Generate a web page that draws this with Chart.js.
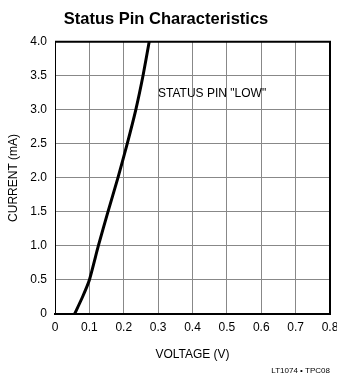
<!DOCTYPE html>
<html>
<head>
<meta charset="utf-8">
<script src="https://cdn.jsdelivr.net/npm/chart.js@4"></script>
<style>
  html, body { margin: 0; padding: 0; background: #fff; }
  #wrap { width: 337px; height: 378px; position: relative; }
</style>
</head>
<body>
<div id="wrap"><canvas id="chart"></canvas></div>
<script>
const voltage = [0.057, 0.08, 0.1, 0.126, 0.154, 0.183, 0.21, 0.235, 0.256, 0.274];
const current = [0, 0.25, 0.5, 1.0, 1.5, 2.0, 2.5, 3.0, 3.5, 4.0];
const xTicks = ["0", "0.1", "0.2", "0.3", "0.4", "0.5", "0.6", "0.7", "0.8"];
const yTicks = ["0", "0.5", "1.0", "1.5", "2.0", "2.5", "3.0", "3.5", "4.0"];

const FONT = "'Liberation Sans Narrow', 'Arial Narrow', 'Liberation Sans', sans-serif";

var points = [];
for (let i = 0; i < voltage.length; i++) {
  points.push({ x: voltage[i], y: current[i] });
}

const extras = {
  id: "extras",
  afterDraw(chart) {
    const c = chart.ctx;
    const a = chart.chartArea;
    const x = chart.scales.x, y = chart.scales.y;
    c.save();
    // heavy frame top/right
    c.strokeStyle = "#000";
    c.lineWidth = 2;
    c.beginPath();
    c.moveTo(a.left, a.top);
    c.lineTo(a.right, a.top);
    c.lineTo(a.right, a.bottom);
    c.stroke();
    c.fillStyle = "#000";
    c.font = "12px " + FONT;
    c.textAlign = "center";
    c.textBaseline = "middle";
    c.fillText('STATUS PIN "LOW"', x.getPixelForValue(0.457), y.getPixelForValue(3.24));
    c.font = "8px " + FONT;
    c.textAlign = "right";
    c.fillText("LT1074 \u2022 TPC08", 330, 371);
    c.restore();
  },
};

new Chart(document.getElementById("chart"), {
  type: "line",
  data: {
    datasets: [
      {
        data: points,
        borderColor: "#000",
        borderWidth: 3,
        pointRadius: 0,
        tension: 0.2,
        fill: false,
      },
    ],
  },
  options: {
    responsive: true,
    maintainAspectRatio: false,
    animation: false,
    layout: { padding: { left: 2, right: 7, top: 0, bottom: 0 } },
    scales: {
      x: {
        type: "linear",
        min: 0,
        max: 0.8,
        afterFit: (s) => {
          s.height = 64;
          s.paddingRight = 0;
        },
        ticks: {
          stepSize: 0.1,
          color: "#000",
          padding: 6,
          font: { size: 12, family: FONT },
          callback: (v, i) => xTicks[i],
        },
        grid: { color: "#888", lineWidth: 1, tickLength: 0 },
        border: { color: "#000", width: 2 },
        title: {
          display: true,
          text: "VOLTAGE (V)",
          color: "#000",
          font: { size: 12, family: FONT },
          padding: { top: 0, bottom: 16 },
        },
      },
      y: {
        min: 0,
        max: 4,
        afterFit: (s) => {
          s.width = 53;
        },
        ticks: {
          stepSize: 0.5,
          color: "#000",
          padding: 8,
          font: { size: 12, family: FONT },
          callback: (v, i) => yTicks[i],
        },
        grid: { color: "#888", lineWidth: 1, tickLength: 0 },
        border: { color: "#000", width: 1 },
        title: {
          display: true,
          text: "CURRENT (mA)",
          color: "#000",
          font: { size: 12, family: FONT },
          padding: { top: 4, bottom: 0 },
        },
      },
    },
    plugins: {
      legend: { display: false },
      tooltip: { enabled: false },
      title: {
        display: true,
        text: "Status Pin Characteristics",
        color: "#000",
        align: "center",
        font: { size: 16.5, weight: "bold", family: FONT },
        padding: { top: 10, bottom: 12 },
      },
    },
  },
  plugins: [extras],
});
</script>
</body>
</html>
